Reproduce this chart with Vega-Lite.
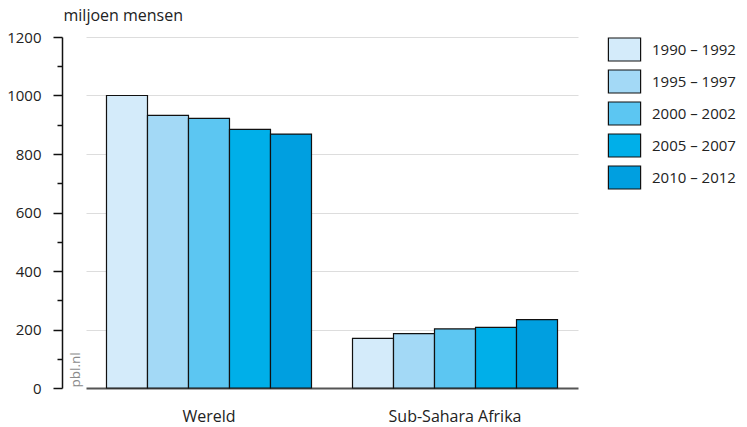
{
  "$schema": "https://vega.github.io/schema/vega-lite/v6.json",
  "autosize": "none",
  "width": 492,
  "height": 351,
  "padding": {"left": 86, "top": 37, "right": 169, "bottom": 39},
  "background": "white",
  "config": {
    "view": {"stroke": null},
    "font": "Open Sans",
    "axis": {"labelFont": "Open Sans", "titleFont": "Open Sans"},
    "legend": {"labelFont": "Open Sans"}
  },
  "data": {
    "values": [
      {"regio": "Wereld", "periode": "1990 – 1992", "waarde": 1000},
      {"regio": "Wereld", "periode": "1995 – 1997", "waarde": 932},
      {"regio": "Wereld", "periode": "2000 – 2002", "waarde": 922},
      {"regio": "Wereld", "periode": "2005 – 2007", "waarde": 884},
      {"regio": "Wereld", "periode": "2010 – 2012", "waarde": 868},
      {"regio": "Sub-Sahara Afrika", "periode": "1990 – 1992", "waarde": 170},
      {"regio": "Sub-Sahara Afrika", "periode": "1995 – 1997", "waarde": 186},
      {"regio": "Sub-Sahara Afrika", "periode": "2000 – 2002", "waarde": 202},
      {"regio": "Sub-Sahara Afrika", "periode": "2005 – 2007", "waarde": 207},
      {"regio": "Sub-Sahara Afrika", "periode": "2010 – 2012", "waarde": 234}
    ]
  },
  "layer": [
    {
      "mark": {"type": "bar", "stroke": "#111", "strokeWidth": 1.2},
      "encoding": {
        "x": {
          "field": "regio",
          "type": "nominal",
          "sort": ["Wereld", "Sub-Sahara Afrika"],
          "scale": {"paddingInner": 0.1667, "paddingOuter": 0.0833},
          "axis": {
            "title": null,
            "ticks": false,
            "labelAngle": 0,
            "labelFontSize": 16,
            "labelColor": "#222",
            "labelPadding": 20,
            "domainColor": "#555",
            "domainWidth": 2
          }
        },
        "xOffset": {
          "field": "periode",
          "type": "nominal",
          "scale": {"paddingInner": 0, "paddingOuter": 0}
        },
        "y": {
          "field": "waarde",
          "type": "quantitative",
          "scale": {"domain": [0, 1200], "nice": false},
          "axis": {
            "values": [0, 100, 200, 300, 400, 500, 600, 700, 800, 900, 1000, 1100, 1200],
            "labelExpr": "datum.value % 200 === 0 ? datum.label : ''",
            "format": "d",
            "offset": 24,
            "domainColor": "#111",
            "domainWidth": 1.5,
            "tickColor": "#111",
            "tickWidth": 1.5,
            "tickSize": {"condition": {"test": "datum.value % 200 === 0", "value": 9}, "value": 5},
            "labelPadding": 12,
            "labelFontSize": 15,
            "labelColor": "#222",
            "grid": true,
            "gridColor": "#dddddd",
            "gridWidth": 1,
            "gridOpacity": {"condition": {"test": "datum.value % 200 === 0 && datum.value > 0", "value": 1}, "value": 0},
            "title": "miljoen mensen",
            "titleAngle": 0,
            "titleAlign": "left",
            "titleBaseline": "middle",
            "titleX": 1,
            "titleY": -22,
            "titleFontSize": 16,
            "titleFontWeight": "normal",
            "titleColor": "#222"
          }
        },
        "color": {
          "field": "periode",
          "type": "nominal",
          "scale": {
            "domain": ["1990 – 1992", "1995 – 1997", "2000 – 2002", "2005 – 2007", "2010 – 2012"],
            "range": ["#d4ebfa", "#a3d9f6", "#5cc6f2", "#00afe9", "#009fe0"]
          },
          "legend": {
            "title": null,
            "orient": "right",
            "offset": 34,
            "symbolType": "M-1.4,-1L1.4,-1L1.4,1L-1.4,1Z",
            "symbolSize": 529,
            "symbolStrokeColor": "#111",
            "symbolStrokeWidth": 1.2,
            "symbolOpacity": 1,
            "rowPadding": 3,
            "labelFontSize": 15,
            "labelColor": "#222",
            "labelOffset": 15
          }
        }
      }
    },
    {
      "mark": {"type": "point", "opacity": 0},
      "encoding": {
        "y": {
          "field": "waarde",
          "type": "quantitative",
          "axis": {
            "orient": "left",
            "offset": 0,
            "domain": false,
            "ticks": false,
            "labels": false,
            "grid": false,
            "title": "pbl.nl",
            "titleAngle": -90,
            "titleAlign": "left",
            "titleBaseline": "middle",
            "titleX": -11,
            "titleY": 350,
            "titleFontSize": 13.5,
            "titleFontWeight": "normal",
            "titleColor": "#8a8a8a"
          }
        }
      }
    }
  ],
  "resolve": {"axis": {"y": "independent"}}
}
